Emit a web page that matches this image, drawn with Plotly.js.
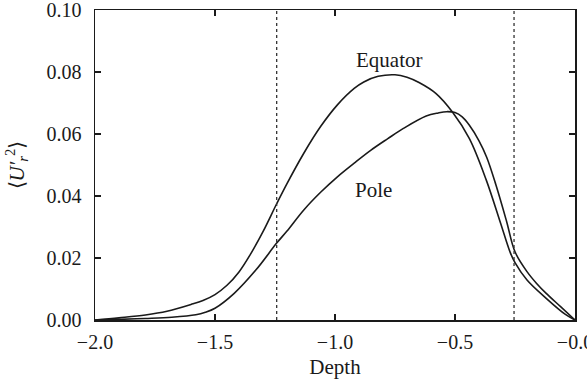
<!DOCTYPE html>
<html><head><meta charset="utf-8">
<script src="https://cdn.plot.ly/plotly-3.0.1.min.js"></script>
<style>html,body{margin:0;padding:0;background:#fff}#plot{width:587px;height:381px}</style>
</head><body><div id="plot"></div>
<script>
const equatorDepth = [-2.0,-1.9,-1.79,-1.7,-1.6,-1.55,-1.5,-1.45,-1.4,-1.35,-1.3,-1.243,-1.2,-1.13,-1.06,-0.99,-0.92,-0.88,-0.82,-0.75,-0.70,-0.65,-0.58,-0.51,-0.44,-0.37,-0.31,-0.27,-0.25,-0.2,-0.12,-0.04,0.0];
const equatorU = [0,0.0007,0.0016,0.0028,0.0050,0.0063,0.0082,0.0112,0.0155,0.0215,0.0285,0.0375,0.0440,0.0538,0.0624,0.0694,0.0747,0.0768,0.0786,0.0791,0.0783,0.0766,0.0731,0.0670,0.0585,0.0452,0.0312,0.0218,0.0185,0.0129,0.0070,0.0018,0];
const poleDepth = [-2.0,-1.9,-1.79,-1.68,-1.58,-1.54,-1.5,-1.42,-1.33,-1.243,-1.2,-1.13,-1.06,-0.99,-0.92,-0.85,-0.78,-0.715,-0.62,-0.57,-0.535,-0.5,-0.47,-0.44,-0.40,-0.368,-0.33,-0.285,-0.25,-0.2,-0.16,-0.12,-0.06,0];
const poleU = [0,0.0002,0.0005,0.0009,0.0017,0.0025,0.0038,0.0086,0.0161,0.0248,0.0287,0.0355,0.0412,0.0462,0.0506,0.0548,0.0585,0.0618,0.0658,0.0668,0.0672,0.0669,0.0655,0.0628,0.0578,0.0525,0.0437,0.0318,0.0220,0.0156,0.0118,0.0086,0.0043,0];
const xTickVals = [-2,-1.5,-1,-0.5,0];
const xTickText = ['\u22122.0','\u22121.5','\u22121.0','\u22120.5','\u22120.0'];
const yTickVals = [0,0.02,0.04,0.06,0.08,0.10];
const yTickText = ['0.00','0.02','0.04','0.06','0.08','0.10'];
const dottedDepths = [-1.243,-0.254];
const labels = [{text:'Equator', x:-0.775, y:0.0839},{text:'Pole', x:-0.84, y:0.0419}];

const font = '"Liberation Serif", "Times New Roman", serif';
const ink = '#1a1a1a';
const traces = [
  {x:equatorDepth, y:equatorU, mode:'lines', line:{color:ink, width:1.6, shape:'spline', smoothing:1}, name:'Equator'},
  {x:poleDepth, y:poleU, mode:'lines', line:{color:ink, width:1.6, shape:'spline', smoothing:1}, name:'Pole'}
];
const shapes = dottedDepths.map(d => ({type:'line', xref:'x', yref:'paper', x0:d, x1:d, y0:0, y1:1, line:{color:'#333', width:1.3, dash:'dot'}}));
const annotations = labels.map(l => ({x:l.x, y:l.y, text:l.text, showarrow:false, font:{family:font, size:21, color:ink}}));
const axisCommon = {showline:true, mirror:'ticks', linecolor:ink, linewidth:1.5, ticks:'inside', ticklen:6, tickwidth:1.2, tickcolor:ink, showgrid:false, zeroline:false, ticklabeloverflow:'allow', tickfont:{family:font, size:20, color:ink}};
const layout = {
  width:587, height:381,
  margin:{l:95, r:12, t:10, b:61},
  paper_bgcolor:'#fff', plot_bgcolor:'#fff',
  showlegend:false,
  xaxis:Object.assign({}, axisCommon, {range:[-2,0], tickmode:'array', tickvals:xTickVals, ticktext:xTickText, ticklabelstandoff:3, title:{text:'Depth', font:{family:font, size:21, color:ink}, standoff:8}}),
  yaxis:Object.assign({}, axisCommon, {range:[0,0.1], tickmode:'array', tickvals:yTickVals, ticktext:yTickText, ticklabelstandoff:8, title:{text:'\u27E8<i>U\u2032</i><sub><i>r</i></sub><sup>2</sup>\u27E9', font:{family:font, size:21, color:ink}, standoff:16}}),
  shapes:shapes,
  annotations:annotations
};
Plotly.newPlot('plot', traces, layout, {staticPlot:true, displayModeBar:false});
</script></body></html>
